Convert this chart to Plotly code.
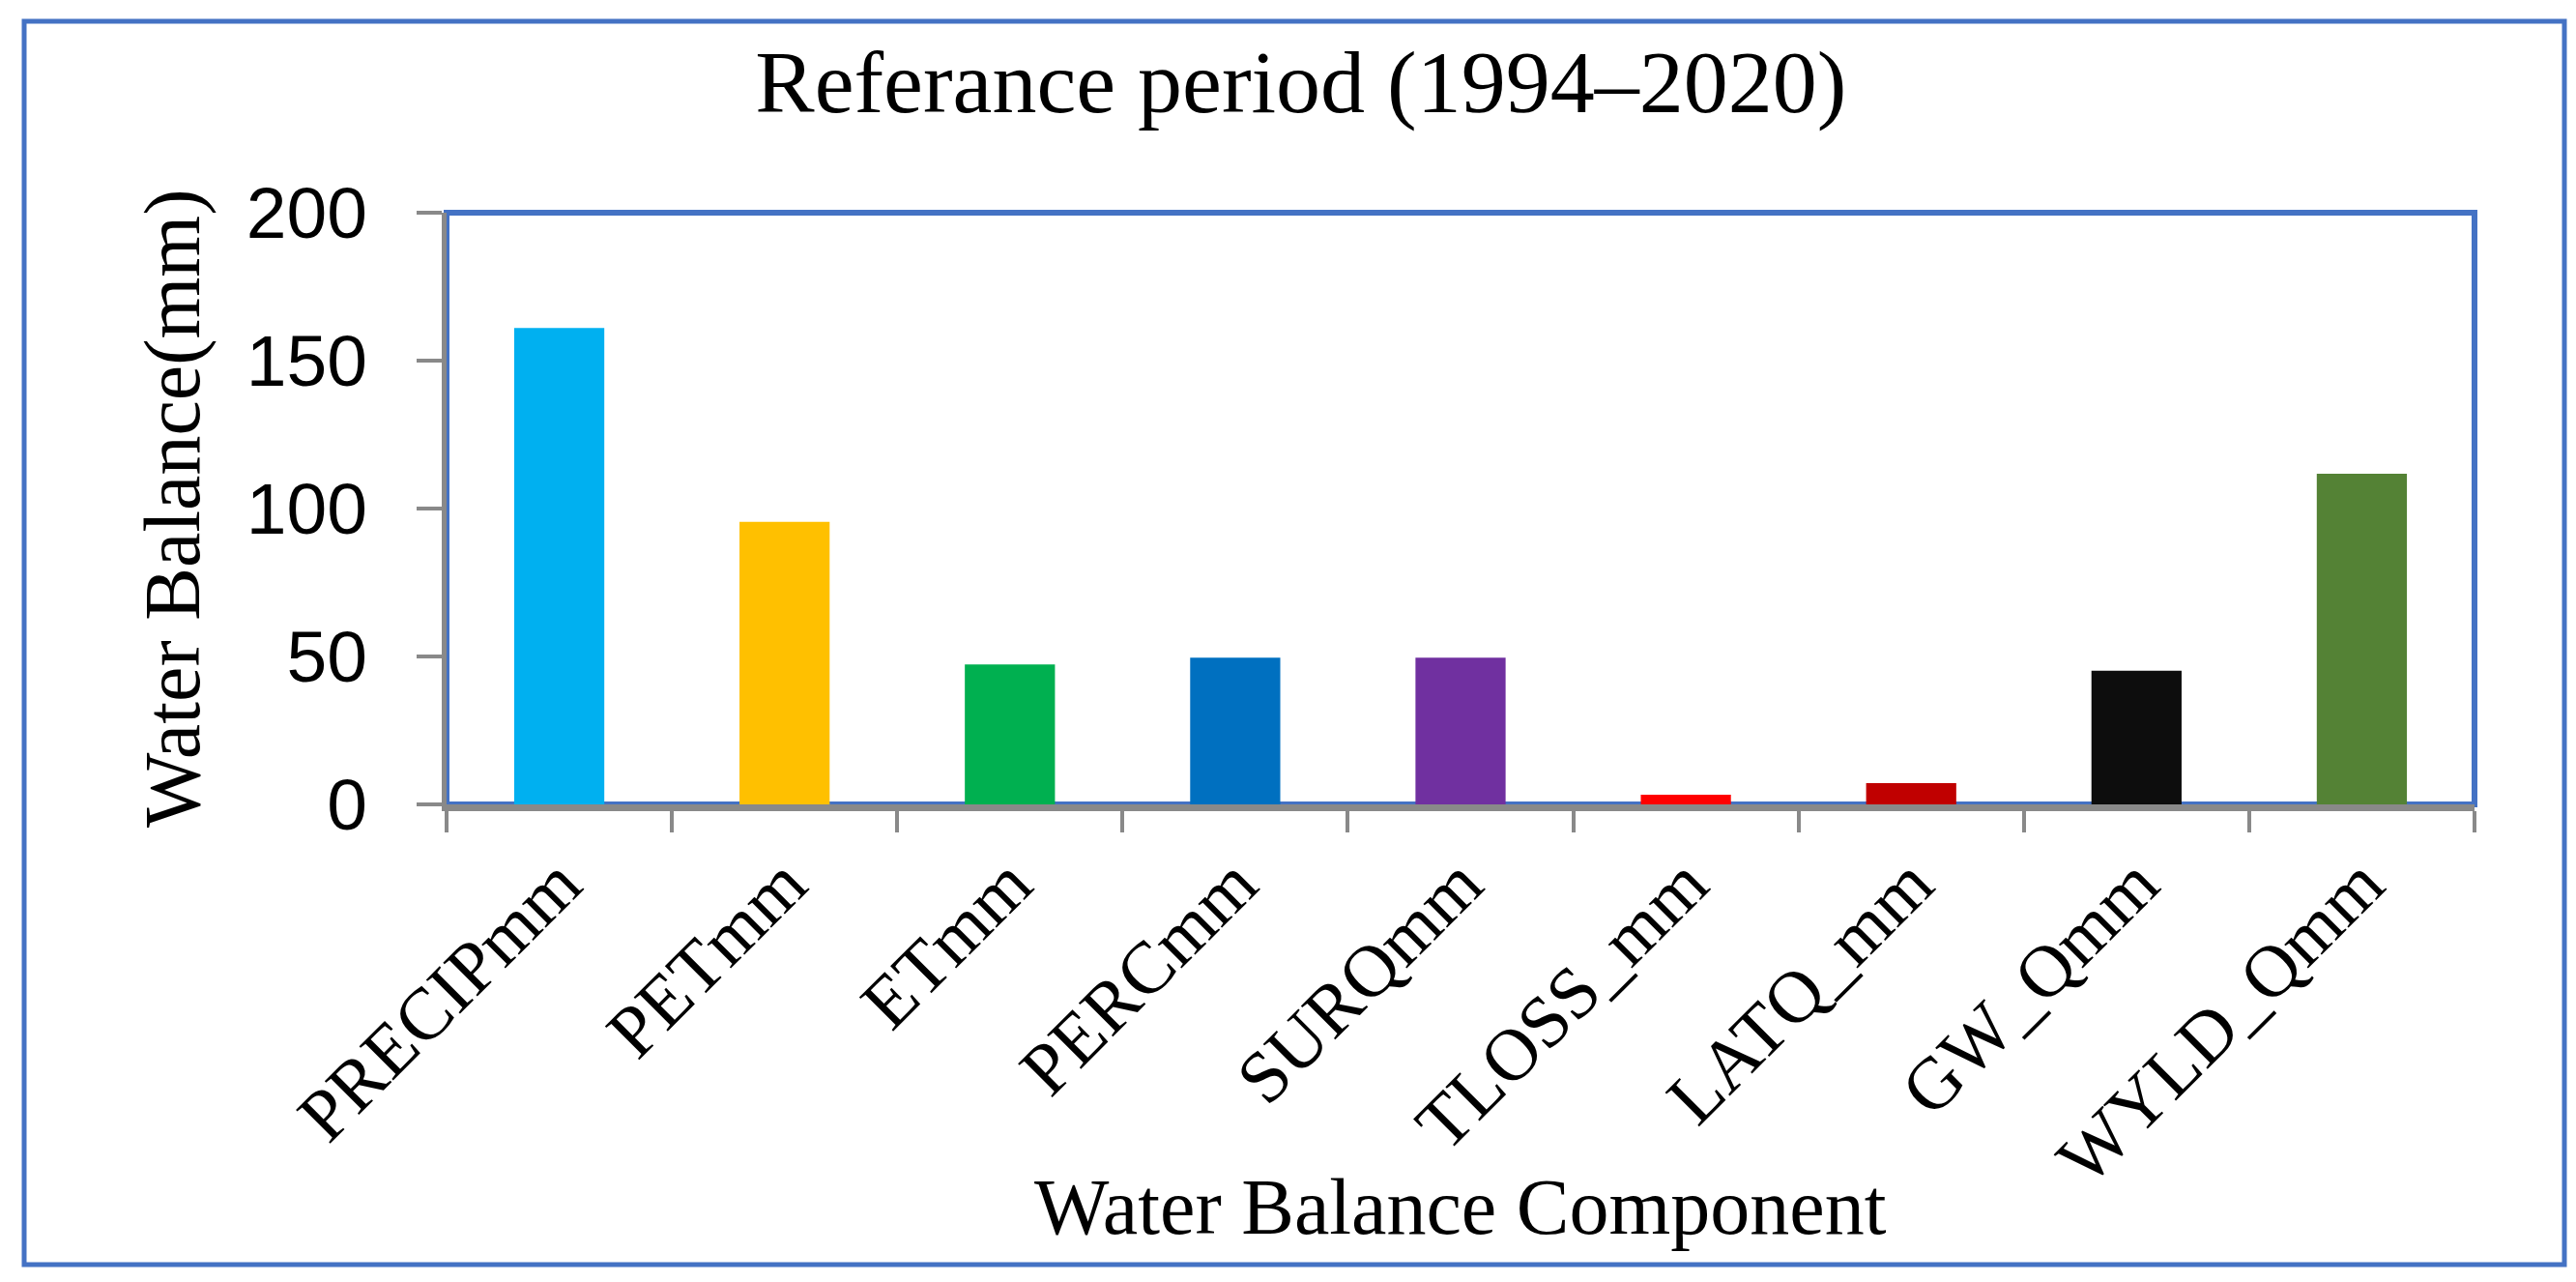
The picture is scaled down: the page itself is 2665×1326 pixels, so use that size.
import plotly.graph_objects as go

categories = ["PRECIPmm", "PETmm", "ETmm", "PERCmm", "SURQmm",
              "TLOSS_mm", "LATQ_mm", "GW_Qmm", "WYLD_Qmm"]
values = [161.0, 95.5, 47.3, 49.6, 49.6, 3.3, 7.2, 45.2, 111.8]
colors = ["#00B0F0", "#FFC000", "#00B050", "#0070C0", "#7030A0",
          "#FF0000", "#C00000", "#0D0D0D", "#548235"]
y_ticks = [0, 50, 100, 150, 200]

title_text = "Referance period (1994\u20132020)"
x_title = "Water Balance Component"
y_title = "Water Balance(mm)"

SERIF = "Liberation Serif"
SANS = "Liberation Sans"
BLUE = "#4472C4"
GRAY = "#898989"

fig = go.Figure()
fig.add_trace(go.Bar(x=categories, y=values, marker=dict(color=colors, line=dict(width=0)),
                     showlegend=False))

W, H = 2665, 1326
L, R, T, B = 454, 2552, 212, 824
fig.update_layout(
    width=W, height=H,
    margin=dict(l=L, r=W - R, t=T, b=H - B, pad=0),
    paper_bgcolor="white", plot_bgcolor="white",
    bargap=0.6,
    title=dict(text=title_text, x=0.502, xanchor="center", y=1 - 76 / H, yanchor="middle",
               yref="container", font=dict(family=SERIF, size=92, color="black")),
)
fig.update_xaxes(
    type="category", tickson="boundaries", ticks="outside", ticklen=22, tickwidth=4,
    tickcolor=GRAY, showline=True, linecolor=GRAY, linewidth=7, showgrid=False,
    tickangle=-45, tickfont=dict(family=SERIF, size=76, color="black"),
    range=[-0.5, 8.5], zeroline=False,
)
fig.update_yaxes(
    range=[0, 200], tickvals=y_ticks, ticks="outside", ticklen=26, tickwidth=4,
    tickcolor=GRAY, showline=True, linecolor=GRAY, linewidth=5, showgrid=False,
    zeroline=False, tickfont=dict(family=SANS, size=75, color="black"),
    ticklabelstandoff=36,
)

pw, ph = R - L, B - T
# plot area blue border
fig.add_shape(type="rect", xref="paper", yref="paper", x0=0, x1=1, y0=0, y1=1,
              line=dict(color=BLUE, width=6), layer="below")
# outer chart border
fig.add_shape(type="rect", xref="paper", yref="paper",
              x0=(17 - L) / pw, x1=(2645 - L) / pw,
              y0=(B - 1300) / ph, y1=(B - 14) / ph,
              line=dict(color=BLUE, width=5), layer="below")

fig.add_annotation(text=y_title, xref="paper", yref="paper", x=(170 - L) / pw, y=0.5,
                   textangle=-90, showarrow=False, xanchor="center", yanchor="middle",
                   font=dict(family=SERIF, size=82, color="black"))
fig.add_annotation(text=x_title, xref="paper", yref="paper", x=0.5, y=(B - 1240) / ph,
                   showarrow=False, xanchor="center", yanchor="middle",
                   font=dict(family=SERIF, size=82, color="black"))

fig.write_html("out.html")
